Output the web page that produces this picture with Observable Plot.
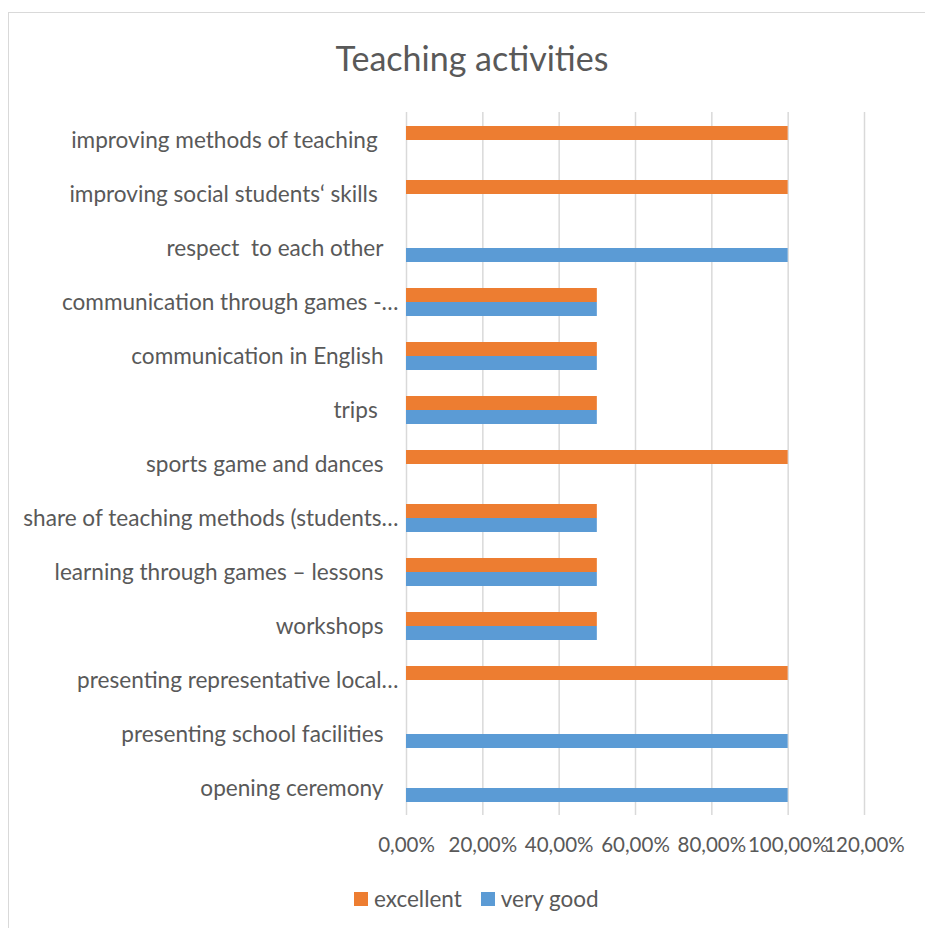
<!DOCTYPE html>
<html><head><meta charset="utf-8">
<script src="https://cdn.jsdelivr.net/npm/d3@7"></script>
<script src="https://cdn.jsdelivr.net/npm/@observablehq/plot@0.6"></script>
<style>
body{margin:0;background:#fff;}
#wrap{position:relative;width:925px;height:928px;overflow:hidden;font-family:Lato,sans-serif;color:#595959;background:#fff;}
#frame{position:absolute;left:8px;top:12px;width:1000px;height:1000px;border-left:1.5px solid #d9d9d9;border-top:1.5px solid #d9d9d9;}
#title{position:absolute;left:0;top:39px;width:944px;text-align:center;font-size:34px;line-height:38px;}
#chart{position:absolute;left:0;top:0;}
#legend{position:absolute;left:354px;top:886px;display:flex;align-items:center;font-size:22.5px;line-height:26px;}
.item{display:flex;align-items:center;margin-right:19px;}
.sw{width:14px;height:14px;margin-right:6px;}
</style>
</head><body>
<div id="wrap">
  <div id="frame"></div>
  <div id="title">Teaching activities</div>
  <div id="chart"></div>
  <div id="legend"></div>
</div>
<script>
const categories = [
  "improving methods of teaching\u00a0",
  "improving social students‘ skills\u00a0",
  "respect  to each other",
  "communication through games -…",
  "communication in English",
  "trips\u00a0",
  "sports game and dances",
  "share of teaching methods (students…",
  "learning through games – lessons",
  "workshops",
  "presenting representative local…",
  "presenting school facilities",
  "opening ceremony"
];
const excellent = [1, 1, 0, 0.5, 0.5, 0.5, 1, 0.5, 0.5, 0.5, 1, 0, 0];
const veryGood  = [0, 0, 1, 0.5, 0.5, 0.5, 0, 0.5, 0.5, 0.5, 0, 1, 1];
const xTicks = [0, 0.2, 0.4, 0.6, 0.8, 1.0, 1.2];
const seriesNames = ["excellent", "very good"];
const seriesColors = ["#ED7D31", "#5B9BD5"];

const exRows = categories.map((c, i) => ({category: c, value: excellent[i]}));
const vgRows = categories.map((c, i) => ({category: c, value: veryGood[i]}));
const fmt = d => (d * 100).toFixed(2).replace(".", ",") + "%";
const truncated = categories.filter(c => c.endsWith("…"));
const normal = categories.filter(c => !c.endsWith("…"));

const chart = Plot.plot({
  width: 925,
  height: 928,
  marginTop: 112,
  marginBottom: 113,
  marginLeft: 406,
  marginRight: 61,
  x: {domain: [0, 1.2], axis: null, label: null},
  y: {domain: categories, padding: 0, axis: null, label: null},
  style: {fontFamily: "Lato, sans-serif", fontSize: "20px", color: "#595959", background: "transparent", overflow: "visible"},
  marks: [
    Plot.ruleX(xTicks, {stroke: "#d9d9d9", strokeWidth: 1.5}),
    Plot.barX(exRows, {y: "category", x: "value", fill: seriesColors[0], insetTop: 13, insetBottom: 27}),
    Plot.barX(vgRows, {y: "category", x: "value", fill: seriesColors[1], insetTop: 27, insetBottom: 13}),
    Plot.axisX({ticks: xTicks, tickSize: 0, tickPadding: 22, tickFormat: fmt, fill: "#595959", fontSize: 20.5, label: null}),
    Plot.text(normal, {x: 0, y: d => d, text: d => d, textAnchor: "end", dx: -23, fill: "#595959", fontSize: 22.6}),
    Plot.text(truncated, {x: 0, y: d => d, text: d => d, textAnchor: "end", dx: -8, fill: "#595959", fontSize: 22.6})
  ]
});
document.getElementById("chart").appendChild(chart);

const legend = document.getElementById("legend");
seriesNames.forEach((name, i) => {
  const item = document.createElement("div");
  item.className = "item";
  const sw = document.createElement("div");
  sw.className = "sw";
  sw.style.background = seriesColors[i];
  const t = document.createElement("span");
  t.textContent = name;
  item.appendChild(sw);
  item.appendChild(t);
  legend.appendChild(item);
});
</script>
</body></html>
